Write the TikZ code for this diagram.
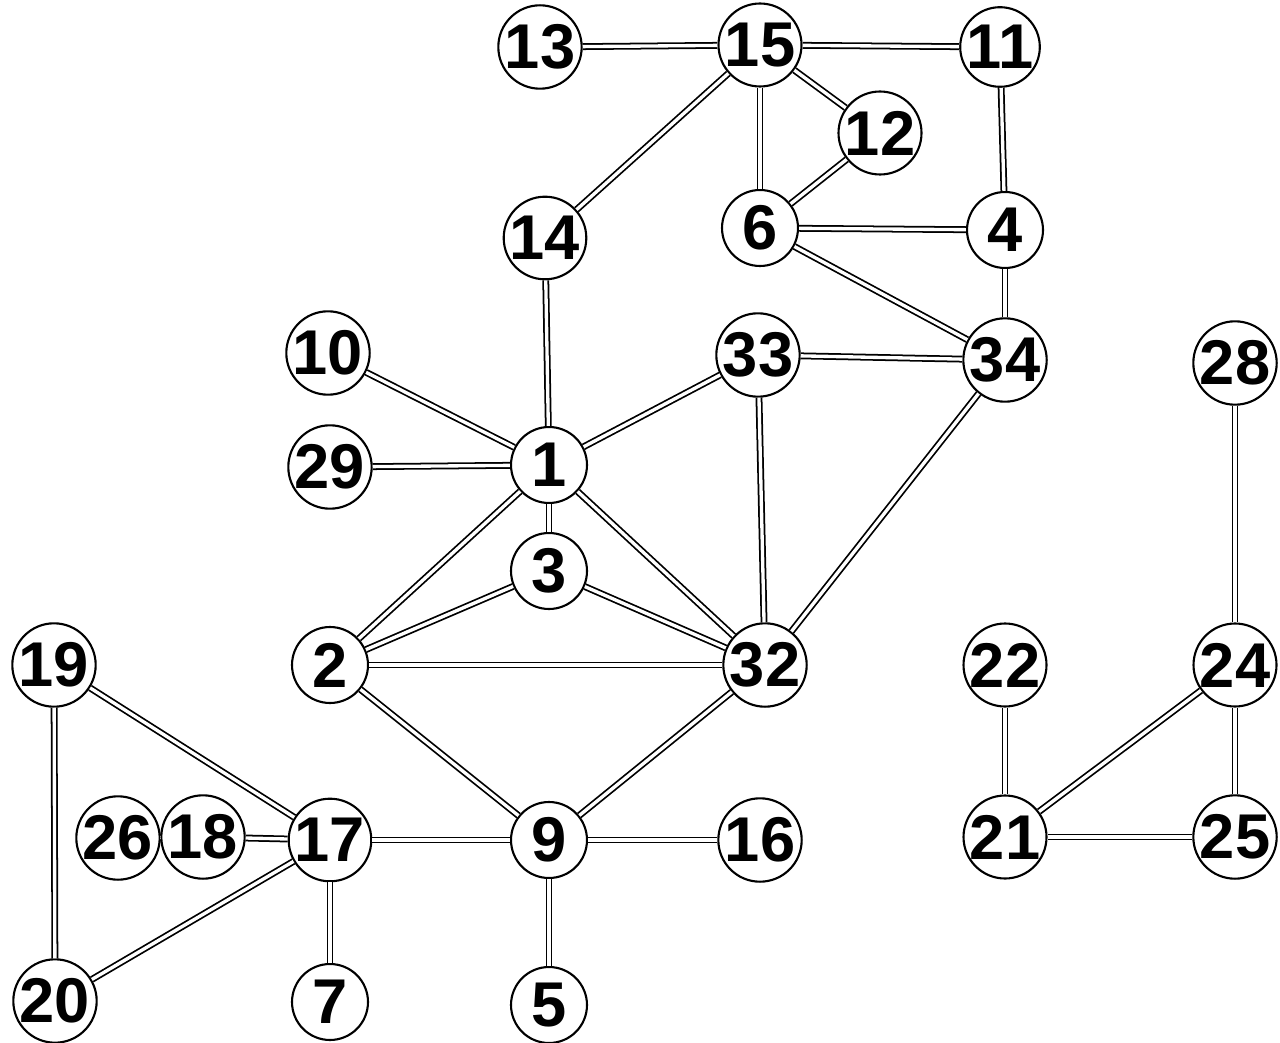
\documentclass[tikz,border=0pt]{standalone}
\usepackage{fontspec}
\setmainfont{Liberation Sans}
\tikzset{
  member/.style={circle,draw,line width=1.2pt,fill=white,minimum size=1.52cm,inner sep=0pt,
    font=\fontsize{36}{36}\selectfont\bfseries},
  tie/.style={draw,line width=1pt,double=white,double distance=1.9pt}
}

\begin{document}
\begin{tikzpicture}[x=0.02cm,y=-0.02cm]
  \useasboundingbox[fill=white] (0,0) rectangle (1280,1043);
  % members of the club
  \foreach \id/\px/\py in {13/540/47, 15/760/45, 11/1000/47, 12/880/133,
      14/545/238, 6/760/228, 4/1005/230,
      10/328/353, 33/758/355, 34/1005/360, 28/1235/363,
      29/330/467, 1/549/465, 3/549/571,
      19/54/665, 2/330/665, 32/765/665, 22/1005/665, 24/1235/665,
      26/118/838, 18/203/837, 17/330/840, 9/549/840, 16/760/840,
      21/1005/837, 25/1235/837,
      20/55/1001, 7/330/1002, 5/549/1005}
    \node[member] (n\id) at (\px,\py) {\id};
  % ties between members
  \foreach \a/\b in {13/15, 15/11, 15/12, 15/6, 15/14, 12/6, 11/4, 6/4, 6/34, 4/34,
      14/1, 10/1, 29/1, 1/33, 33/34, 33/32, 34/32,
      1/3, 1/2, 1/32, 3/2, 3/32, 2/32, 2/9, 9/32,
      19/17, 19/20, 26/18, 18/17, 17/9, 17/20, 17/7, 9/16, 9/5,
      28/24, 22/21, 24/21, 24/25, 21/25}
    \draw[tie] (n\a) -- (n\b);
\end{tikzpicture}
\end{document}
